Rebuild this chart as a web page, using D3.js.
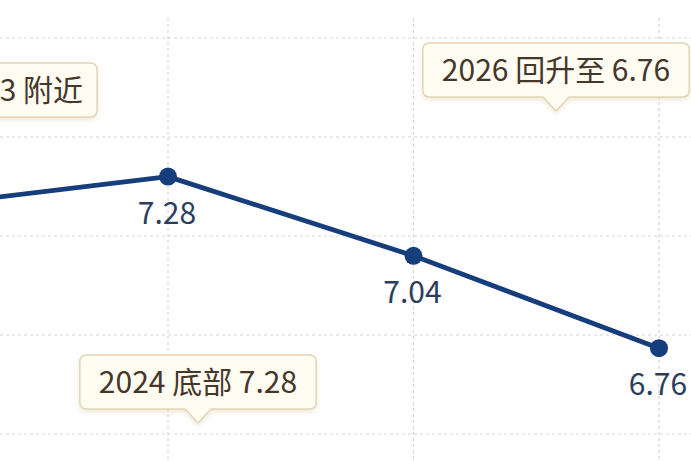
<!DOCTYPE html>
<html><head><meta charset="utf-8">
<script src="https://cdn.jsdelivr.net/npm/d3@7"></script>
<style>
html,body{margin:0;padding:0;background:#fff;overflow:hidden}
svg{display:block}
</style></head>
<body>
<svg id="chart" width="691" height="461"></svg>
<script>
// ---- data ----
const years = ["2023", "2024", "2025", "2026"];
const rates = [7.19, 7.28, 7.04, 6.76];
const valueLabels = ["", "7.28", "7.04", "6.76"];
const gridTicks = [6.5, 6.8, 7.1, 7.4, 7.7];
const noteYears = ["2023", "2024", "2026"];
const noteTexts = ["3 附近", "2024 底部 7.28", "2026 回升至 6.76"];

// ---- drawing ----
const W = 691, H = 461;
const svg = d3.select("#chart");
const font = "'Noto Sans CJK SC', 'Noto Sans', sans-serif";

const x = d3.scalePoint().domain(years).range([-77.5, 659]);
const y = d3.scaleLinear().domain([6.5, 7.7]).range([434, 38]);

const defs = svg.append("defs");
const f = defs.append("filter").attr("id", "sh").attr("x", "-20%").attr("y", "-30%").attr("width", "140%").attr("height", "170%");
f.append("feDropShadow").attr("dx", 0).attr("dy", 2).attr("stdDeviation", 2.5)
  .attr("flood-color", "#b09a60").attr("flood-opacity", 0.25);

// horizontal grid
svg.append("g").selectAll("line").data(gridTicks).join("line")
  .attr("x1", 0).attr("x2", W)
  .attr("y1", d => y(d)).attr("y2", d => y(d))
  .attr("stroke", "#d6d6d6").attr("stroke-width", 1.2)
  .attr("stroke-dasharray", "3,3");

// vertical grid
svg.append("g").selectAll("line").data(years).join("line")
  .attr("x1", d => x(d)).attr("x2", d => x(d))
  .attr("y1", 18).attr("y2", H)
  .attr("stroke", "#d6d6d6").attr("stroke-width", 1.2)
  .attr("stroke-dasharray", "3,3");

// line
const pts = years.map((yr, i) => ({yr, v: rates[i], lab: valueLabels[i]}));
svg.append("path").datum(pts)
  .attr("d", d3.line().x(d => x(d.yr)).y(d => y(d.v)))
  .attr("fill", "none").attr("stroke", "#163d7c").attr("stroke-width", 4.8)
  .attr("stroke-linejoin", "round");

svg.append("g").selectAll("circle").data(pts).join("circle")
  .attr("cx", d => x(d.yr)).attr("cy", d => y(d.v)).attr("r", 9)
  .attr("fill", "#163d7c");

svg.append("g").selectAll("text").data(pts).join("text")
  .attr("x", d => x(d.yr) - 1).attr("y", d => y(d.v) + 47)
  .attr("text-anchor", "middle")
  .attr("font-family", font).attr("font-size", 30)
  .attr("fill", "#2b3d5c")
  .text(d => d.lab);

// callouts
const notes = noteYears.map((yr, i) => ({yr, t: noteTexts[i]}));
const place = {
  "2023": {right: 97, top: 63, pointer: false},
  "2024": {cx: x("2024") + 30, top: 355, pointer: true},
  "2026": {cx: x("2026") - 103, top: 43, pointer: true}
};
const bh = 54, r = 7;
const ng = svg.append("g");
notes.forEach(n => {
  const p = place[n.yr];
  const g = ng.append("g");
  const t = g.append("text")
    .attr("font-family", font).attr("font-size", 30)
    .attr("fill", "#45372a")
    .attr("y", p.top + bh / 2 + 10.5)
    .text(n.t);
  let x0, x1;
  if (p.right !== undefined) {
    x1 = p.right; x0 = -40;
    t.attr("text-anchor", "end").attr("x", x1 - 14);
  } else {
    t.attr("text-anchor", "middle").attr("x", p.cx);
    const w = t.node().getComputedTextLength() + 38;
    x0 = p.cx - w / 2; x1 = x0 + w;
  }
  const top = p.top, bot = p.top + bh;
  let d;
  if (p.pointer) {
    const c = p.cx, pw = 13, ph = 14;
    d = `M${x0 + r},${top} H${x1 - r} Q${x1},${top} ${x1},${top + r} V${bot - r} Q${x1},${bot} ${x1 - r},${bot}
         H${c + pw} L${c},${bot + ph} L${c - pw},${bot} H${x0 + r} Q${x0},${bot} ${x0},${bot - r} V${top + r} Q${x0},${top} ${x0 + r},${top} Z`;
  } else {
    d = `M${x0 + r},${top} H${x1 - r} Q${x1},${top} ${x1},${top + r} V${bot - r} Q${x1},${bot} ${x1 - r},${bot}
         H${x0 + r} Q${x0},${bot} ${x0},${bot - r} V${top + r} Q${x0},${top} ${x0 + r},${top} Z`;
  }
  g.insert("path", "text").attr("d", d)
    .attr("fill", "#fffcf1").attr("stroke", "#e2d6b6").attr("stroke-width", 1.5)
    .attr("filter", "url(#sh)");
});
</script>
</body></html>
